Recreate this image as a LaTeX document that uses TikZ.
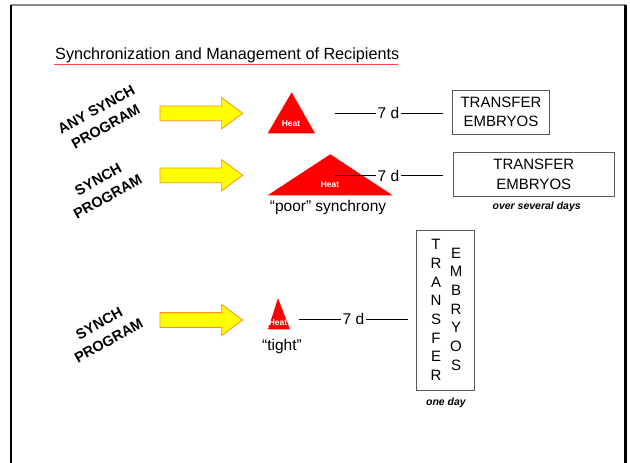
\documentclass[tikz,border=0pt]{standalone}
\usepackage{fontspec}
\setmainfont{Liberation Sans}
\definecolor{arrfill}{RGB}{255,255,0}
\definecolor{arrdraw}{RGB}{255,140,40}
\definecolor{ulred}{RGB}{255,70,70}
\begin{document}
\begin{tikzpicture}[x=1pt,y=-1pt,
  bigarrow/.pic={\draw[fill=arrfill,draw=arrdraw,line width=0.8pt,line join=miter]
     (0,-7.4) -- (61.7,-7.4) -- (61.7,-15.6) -- (82.7,0) -- (61.7,15.6) -- (61.7,7.4) -- (0,7.4) -- cycle;},
  tri/.style={fill=red,draw=none},
  heat/.style={text=white,font=\bfseries\fontsize{8.5}{9}\selectfont,inner sep=0pt},
  lbl/.style={font=\fontsize{15.5}{18}\selectfont,inner sep=0pt},
  dayslbl/.style={lbl,inner xsep=1.5pt},
  boxlbl/.style={draw=black!65,line width=0.8pt,font=\fontsize{15}{19.5}\selectfont,align=center,inner sep=0pt},
  rot/.style={font=\bfseries\fontsize{14.5}{19.5}\selectfont,align=center,rotate=29,inner sep=0pt},
  note/.style={font=\bfseries\itshape\fontsize{10.5}{12}\selectfont,inner sep=0pt},
  conn/.style={line width=0.8pt,black},
  col/.style={font=\fontsize{15}{18.7}\selectfont,align=center,inner sep=0pt}]
\useasboundingbox (0,0) rectangle (630,463);
% slide frame
\draw[black!45,line width=1.5pt] (10.5,5) -- (626,5);
\draw[black,line width=2.5pt] (11,4.5) -- (11,470);
\draw[black,line width=2.5pt] (625.5,4.5) -- (625.5,470);
% title
\node[font=\fontsize{16.2}{18}\selectfont,anchor=base west,inner sep=0pt] (title) at (55,59) {Synchronization and Management of Recipients};
\draw[ulred,line width=1.6pt] (54,64.3) -- (398,64.3);
% row 1
\node[rot] (prog1) at (101,118) {ANY SYNCH\\PROGRAM};
\pic at (160,113.3) {bigarrow};
\fill[tri] (267.7,133.3) -- (291.7,92.3) -- (315,133.3) -- cycle;
\node[heat] (heat1) at (291,123.5) {Heat};
\node[dayslbl] (d1) at (388.5,113.3) {7 d};
\coordinate (l1) at (335,113.3);
\coordinate (r1) at (443,113.3);
\draw[conn] (l1) -- (d1.west);
\draw[conn] (d1.east) -- (r1);
\node[boxlbl,minimum width=96.3pt,minimum height=44pt] (box1) at (501,112) {TRANSFER\\EMBRYOS};
% row 2
\node[rot] (prog2) at (103,188) {SYNCH\\PROGRAM};
\pic at (160,175.3) {bigarrow};
\fill[tri] (267.7,195.3) -- (330.3,154.3) -- (392.7,195.3) -- cycle;
\node[heat] (heat2) at (330,185) {Heat};
\node[lbl] (poor) at (328,207) {“poor” synchrony};
\node[dayslbl] (d2) at (388.5,175.7) {7 d};
\coordinate (l2) at (335,175.7);
\coordinate (r2) at (443,175.7);
\draw[conn] (l2) -- (d2.west);
\draw[conn] (d2.east) -- (r2);
\node[boxlbl,minimum width=161pt,minimum height=44.4pt] (box2) at (533.8,174.5) {TRANSFER\\EMBRYOS};
\node[note] (sev) at (536.7,206.7) {over several days};
% row 3
\node[rot] (prog3) at (104,332) {SYNCH\\PROGRAM};
\pic at (160,320) {bigarrow};
\fill[tri] (268,329.3) -- (278,298.3) -- (290,329.3) -- cycle;
\node[heat] (heat3) at (278,322.3) {Heat};
\node[lbl] (tight) at (282,346) {“tight”};
\node[dayslbl] (d3) at (353.5,319.3) {7 d};
\coordinate (l3) at (299,319.3);
\coordinate (r3) at (408,319.3);
\draw[conn] (l3) -- (d3.west);
\draw[conn] (d3.east) -- (r3);
\node[draw=black!65,line width=0.8pt,minimum width=57.3pt,minimum height=160pt,inner sep=0pt] (box3) at (445.3,310.7) {};
\node[col] (colA) at (436,310) {T\\R\\A\\N\\S\\F\\E\\R};
\node[col] (colB) at (456,309.2) {E\\M\\B\\R\\Y\\O\\S};
\node[note] (oneday) at (446,403) {one day};
\end{tikzpicture}
\end{document}
